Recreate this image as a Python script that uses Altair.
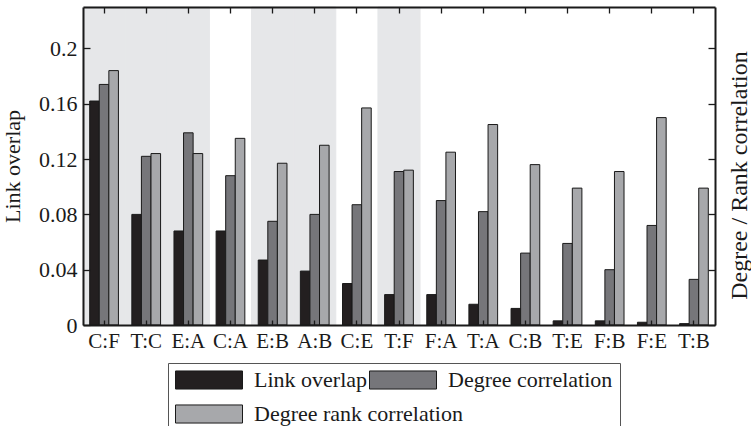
import altair as alt
import pandas as pd

# Network pairs, in plotted order
pairs = ["C:F", "T:C", "E:A", "C:A", "E:B", "A:B", "C:E", "T:F",
         "F:A", "T:A", "C:B", "T:E", "F:B", "F:E", "T:B"]

link_overlap = [0.162, 0.080, 0.068, 0.068, 0.047, 0.039, 0.030, 0.022,
                0.022, 0.015, 0.012, 0.003, 0.003, 0.002, 0.001]
degree_corr = [0.174, 0.122, 0.139, 0.108, 0.075, 0.080, 0.087, 0.111,
               0.090, 0.082, 0.052, 0.059, 0.040, 0.072, 0.033]
rank_corr = [0.184, 0.124, 0.124, 0.135, 0.117, 0.130, 0.157, 0.112,
             0.125, 0.145, 0.116, 0.099, 0.111, 0.150, 0.099]

# Pairs drawn on a grey background band
shaded_pairs = ["C:F", "T:C", "E:A", "E:B", "A:B", "T:F"]

series_names = ["Link overlap", "Degree correlation", "Degree rank correlation"]
series_colors = ["#231f20", "#76767a", "#a7a8ab"]

y_ticks = [0, 0.04, 0.08, 0.12, 0.16, 0.2]
Y_MAX = 0.23

FONT = "Liberation Serif"
INK = "#1a1a1a"
BAND = "#e6e7e9"

rows = []
for name, vals in zip(series_names, [link_overlap, degree_corr, rank_corr]):
    for p, v in zip(pairs, vals):
        rows.append({"pair": p, "series": name, "value": v})
df = pd.DataFrame(rows)

bands = pd.DataFrame({"pair": shaded_pairs, "lo": 0.0, "hi": Y_MAX})

xscale = alt.Scale(domain=pairs, paddingInner=0, paddingOuter=0)
yscale = alt.Scale(domain=[0, Y_MAX], nice=False, zero=True)

# Wide flat swatch shared by both legend blocks
SWATCH = dict(symbolType="M-1,-0.27H1V0.27H-1Z", symbolSize=4489,
              symbolStrokeColor=INK, symbolStrokeWidth=1, symbolOpacity=1,
              clipHeight=20, labelFontSize=22, labelColor=INK, labelOffset=11,
              labelLimit=400, orient="none", direction="horizontal")


def tick_axis(orient, size, **kw):
    """Axis drawing only short ticks that point into the plot."""
    return alt.Axis(orient=orient, offset=-size, tickSize=size, ticks=True,
                    labels=False, domain=False, grid=False, title=None,
                    tickColor=INK, tickWidth=1.3, zindex=2, **kw)


def frame_axis(orient, **kw):
    """Axis drawing only its domain line, used as the plot frame."""
    opts = dict(orient=orient, ticks=False, labels=False, domain=True,
                domainColor=INK, domainWidth=2, grid=False, zindex=3)
    opts.update(kw)
    if "title" not in opts:
        opts["title"] = None
    return alt.Axis(**opts)


# Grey background bands; also carries the inward ticks on top and left
band_layer = alt.Chart(bands).mark_rect(color=BAND, stroke=BAND, strokeWidth=1).encode(
    x=alt.X("pair:N", sort=pairs, scale=xscale, axis=tick_axis("top", 6)),
    y=alt.Y("lo:Q", scale=yscale, axis=tick_axis("left", 7, values=y_ticks)),
    y2="hi:Q",
)

# Grouped bars; the boxed legend holds the first two series on its top row
bars = alt.Chart(df).mark_bar(stroke=INK, strokeWidth=1).encode(
    x=alt.X("pair:N", sort=pairs, scale=xscale,
            axis=alt.Axis(orient="bottom", title=None, ticks=False, domain=True,
                          domainColor=INK, domainWidth=2, zindex=3,
                          labelAngle=0, labelPadding=5, labelFontSize=21)),
    xOffset=alt.XOffset("series:N", sort=series_names,
                        scale=alt.Scale(paddingOuter=0.7, paddingInner=0)),
    y=alt.Y("value:Q", scale=yscale,
            axis=alt.Axis(orient="left", values=y_ticks, format="~g", ticks=False,
                          domain=True, domainColor=INK, domainWidth=2, zindex=3,
                          grid=False, title="Link overlap", titlePadding=14,
                          labelPadding=6, labelFontSize=22, titleFontSize=22)),
    color=alt.Color("series:N", sort=series_names,
                    scale=alt.Scale(domain=series_names, range=series_colors),
                    legend=alt.Legend(
                        values=series_names[:2], columns=2, columnPadding=1,
                        legendX=85, legendY=356, padding=7, strokeColor="#555",
                        title=" ", titleOrient="bottom", titleFontSize=60,
                        titlePadding=0, **SWATCH)),
)

# Second legend row: the rank-correlation swatch inside the same box
rank_key = alt.Chart(df).transform_filter(
    alt.datum.series == series_names[2]
).mark_point(opacity=0, filled=True).encode(
    x=alt.X("pair:N", sort=pairs, scale=xscale, axis=None),
    y=alt.Y("value:Q", scale=yscale, axis=None),
    fill=alt.Fill("series:N",
                  scale=alt.Scale(domain=series_names[2:], range=series_colors[2:]),
                  legend=alt.Legend(title=None, legendX=92, legendY=397,
                                    padding=0, **SWATCH)),
)

# Invisible layer carrying the right-hand and bottom inward ticks
tick_layer = alt.Chart(df).mark_point(opacity=0).encode(
    x=alt.X("pair:N", sort=pairs, scale=xscale, axis=tick_axis("bottom", 5)),
    y=alt.Y("value:Q", scale=yscale, axis=tick_axis("right", 7, values=y_ticks)),
)

# Invisible layer carrying the top and right frame lines and the right title
frame_layer = alt.Chart(df).mark_point(opacity=0).encode(
    x=alt.X("pair:N", sort=pairs, scale=xscale, axis=frame_axis("top")),
    y=alt.Y("value:Q", scale=yscale,
            axis=frame_axis("right", title="Degree / Rank correlation",
                            titleAngle=270, titleBaseline="top",
                            titlePadding=12, titleY=168, titleFontSize=24)),
)

chart = alt.layer(band_layer, bars, rank_key, tick_layer, frame_layer).resolve_axis(
    x="independent", y="independent"
).properties(
    width=632, height=318,
    padding={"left": 83, "top": 7, "right": 36, "bottom": 101},
    autosize=alt.AutoSizeParams(type="none"),
).configure_view(
    strokeWidth=0
).configure_axis(
    labelFont=FONT, titleFont=FONT, labelColor=INK, titleColor=INK,
    titleFontWeight="normal"
).configure_legend(
    labelFont=FONT, titleFont=FONT
)

chart.save("out.html", embed_options={"renderer": "svg", "actions": False})
